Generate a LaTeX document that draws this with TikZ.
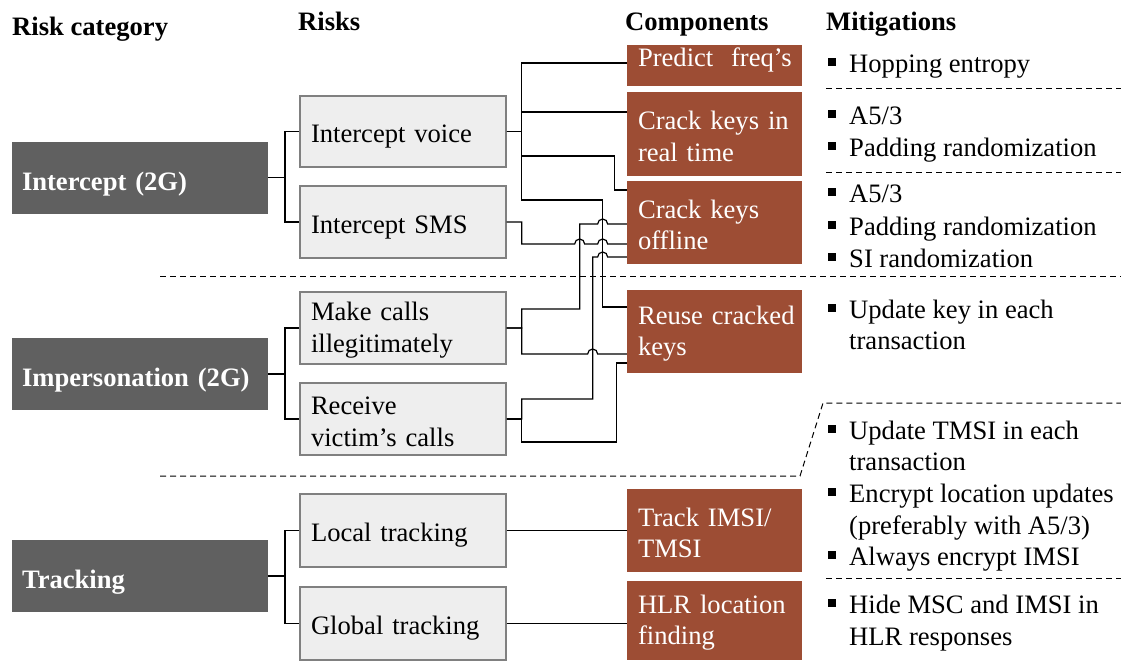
\documentclass[tikz,border=0pt]{standalone}
\usepackage{fontspec}
\setmainfont{Liberation Serif}
\usepackage{xcolor}
\definecolor{catgray}{RGB}{96,96,96}
\definecolor{riskfill}{RGB}{238,238,238}
\definecolor{riskline}{RGB}{128,128,128}
\definecolor{compbrown}{RGB}{157,77,52}
\newcommand{\fsz}{\fontsize{26.6}{31.5}\selectfont}
\newcommand{\msq}{\makebox[21pt][l]{\rule[6.5pt]{7.5pt}{7.5pt}}}

\begin{document}
\begin{tikzpicture}[x=1pt,y=-1pt,
    every node/.style={font=\fsz},
    head/.style={anchor=base west,inner sep=0pt,font=\fsz\bfseries},
    catbox/.style={fill=catgray,text=white,font=\fsz\bfseries,text width=236pt,inner xsep=10pt,minimum height=72pt,align=left,text height=25pt,text depth=0pt},
    riskbox/.style={fill=riskfill,draw=riskline,line width=1.3pt,text width=184pt,inner xsep=11pt,inner ysep=3pt,minimum height=72pt,align=left},
    compbox/.style={fill=compbrown,text=white,text width=153pt,inner xsep=11pt,inner ysep=3pt,align=left},
    oneline/.style={text height=22.6pt,text depth=0pt},
    twoline/.style={execute at begin node=\rule{0pt}{23pt}},
    mit/.style={anchor=base west,inner sep=0pt},
    catline/.style={line width=1.5pt},
    link/.style={line width=1.2pt},
    sepline/.style={line width=1pt,dash pattern=on 6pt off 4pt}]
            \useasboundingbox (0,0) rectangle (1121,662);

            % column heads
            \node (hcat) at (12,35) [head] {Risk category};
            \node (hrisk) at (298,30) [head] {Risks};
            \node (hcomp) at (625,30.5) [head] {Components};
            \node (hmit) at (826,30.5) [head] {Mitigations};

            % separators
            \draw[sepline] (160,276) -- (1121,276);
            \draw[sepline] (160,476) -- (800,476) -- (823,403) -- (1121,403);
            \foreach \yy in {88,172,578}
                \draw[sepline] (826,\yy) -- (1121,\yy);

            % risk categories
            \node (ci) at (140,177.5) [catbox] {Intercept (2G)};
            \node (cm) at (140,374) [catbox] {Impersonation (2G)};
            \node (ct) at (140,576) [catbox] {Tracking};

            % risks
            \node (rv) at (403,131.5) [riskbox,oneline,minimum height=71pt] {Intercept voice};
            \node (rs) at (403,222) [riskbox,oneline] {Intercept SMS};
            \node (rm) at (403,328) [riskbox,twoline] {Make calls\\illegitimately};
            \node (rc) at (403,419) [riskbox,twoline] {Receive\\victim’s calls};
            \node (lt) at (403,530.5) [riskbox,oneline,minimum height=73pt] {Local tracking};
            \node (gt) at (403,623.5) [riskbox,oneline,minimum height=73pt] {Global tracking};

            % components
            \node (pf) at (714.5,65.5) [compbox,minimum height=41pt,text height=17pt,text depth=14.6pt] {Predict~~freq’s};
            \node (rt) at (714.5,134) [compbox,twoline,minimum height=84pt] {Crack~keys~in\\real time};
            \node (ko) at (714.5,222.5) [compbox,twoline,minimum height=83pt] {Crack keys\\offline};
            \node (rk) at (714.5,331.5) [compbox,twoline,minimum height=83pt] {Reuse~cracked\\keys};
            \node (ti) at (714.5,530.5) [compbox,twoline,minimum height=83pt] {Track~IMSI/\\TMSI};
            \node (hl) at (714.5,620.5) [compbox,twoline,minimum height=79pt] {HLR~location\\finding};

            % mitigations
            \node (m1) at (828,72) [mit] {\msq Hopping entropy};
            \node (m2) at (828,124) [mit] {\msq A5/3};
            \node (m3) at (828,156) [mit] {\msq Padding randomization};
            \node (m4) at (828,202) [mit] {\msq A5/3};
            \node (m5) at (828,235) [mit] {\msq Padding randomization};
            \node (m6) at (828,267) [mit] {\msq SI randomization};
            \node (m7) at (828,318) [mit] {\msq Update key in each};
            \node (m7b) at (849,349) [mit] {transaction};
            \node (m8) at (828,439) [mit] {\msq Update TMSI in each};
            \node (m8b) at (849,470) [mit] {transaction};
            \node (m9) at (828,502) [mit] {\msq Encrypt location updates};
            \node (m9b) at (849,534) [mit] {(preferably with A5/3)};
            \node (m10) at (828,565) [mit] {\msq Always encrypt IMSI};
            \node (m11) at (828,613) [mit] {\msq Hide MSC and IMSI in};
            \node (m11b) at (849,645) [mit] {HLR responses};

            % category -> risk
            \draw[catline] (ci.east) -- ++(17,0) |- (rv.west);
            \draw[catline] (ci.east) -- ++(17,0) |- (rs.west);
            \draw[catline] (cm.east) -- ++(17,0) |- (rm.west);
            \draw[catline] (cm.east) -- ++(17,0) |- (rc.west);
            \draw[catline] (ct.east) -- ++(17,0) |- (lt.west);
            \draw[catline] (ct.east) -- ++(17,0) |- (gt.west);

            % risk -> component (bumps where lines cross)
            \draw[link] (rv.east) -- ++(15,0) |- ([yshift=2.5]pf.west);
            \draw[link] (rv.east) -- ++(15,0) |- ([yshift=22]rt.west);
            \draw[link] (rv.east) -- ++(15,0) |- ++(93,24.5) |- ([yshift=32.5]ko.west);
            \draw[link] (rv.east) -- ++(15,0) |- ++(81,68.5) |- ([yshift=24.5]rk.west);
            \draw[link] (rs.east) -- ++(15,0) |- ++(53,22)
                arc[start angle=180,end angle=0,radius=5pt] -- ++(13,0)
                arc[start angle=180,end angle=0,radius=5pt] -- ([yshift=-21.5]ko.west);
            \draw[link] (rm.east) -- ++(15,0) |- ++(58,-19) |- ++(18,-85)
                arc[start angle=180,end angle=0,radius=5pt] -- ([yshift=-1.5]ko.west);
            \draw[link] (rm.east) -- ++(15,0) |- ++(66,26)
                arc[start angle=180,end angle=0,radius=5pt] -- ([yshift=-22.5]rk.west);
            \draw[link] (rc.east) -- ++(15,0) |- ++(71,-20) |- ++(5,-142)
                arc[start angle=180,end angle=0,radius=5pt] -- ([yshift=-34.5]ko.west);
            \draw[link] (rc.east) -- ++(15,0) |- ++(95,23) |- ([yshift=-31.5]rk.west);
            \draw[link] (lt.east) -- (lt.east -| ti.west);
            \draw[link] (gt.east) -- (gt.east -| hl.west);
        \end{tikzpicture}
\end{document}
